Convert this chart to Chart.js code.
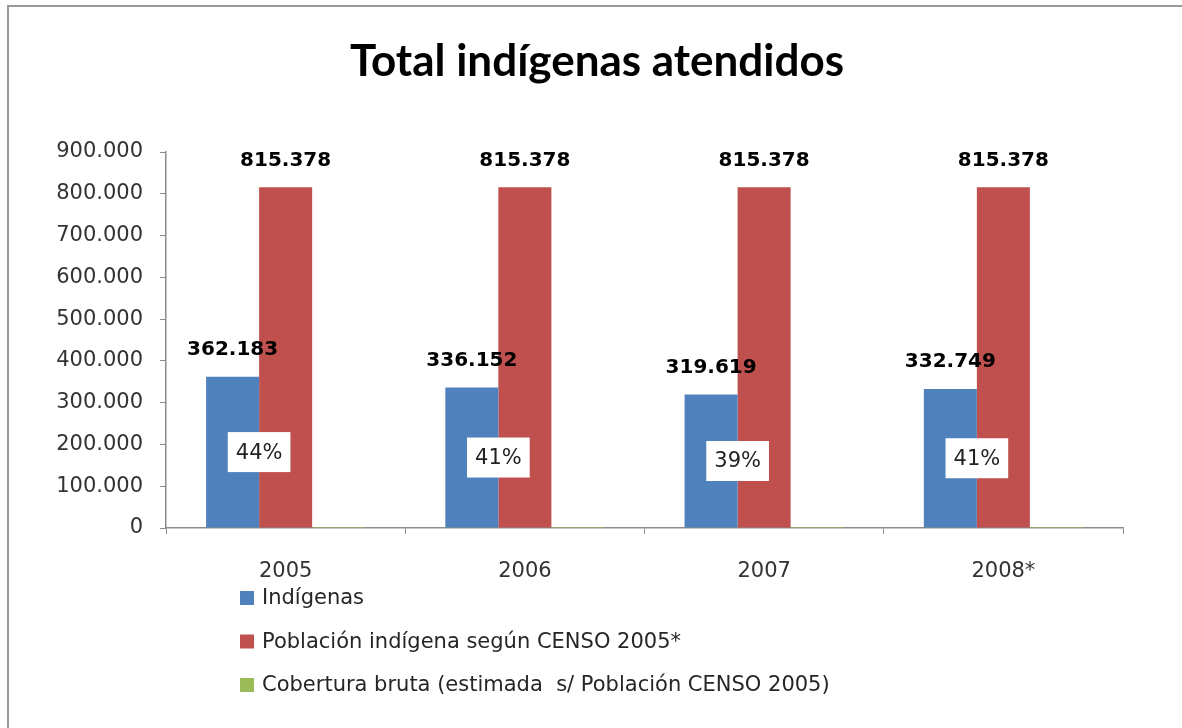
<!DOCTYPE html>
<html>
<head>
<meta charset="utf-8">
<script src="https://cdn.jsdelivr.net/npm/chart.js@4"></script>
<style>
  html, body { margin: 0; padding: 0; background: #fff; }
  #wrap { width: 1182px; height: 728px; }
</style>
</head>
<body>
<div id="wrap"><canvas id="chart" width="1182" height="728"></canvas></div>
<script>
// data
const categories = ['2005', '2006', '2007', '2008*'];
const indigenas = [362183, 336152, 319619, 332749];
const poblacionCenso = [815378, 815378, 815378, 815378];
const cobertura = [0.44, 0.41, 0.39, 0.41];
const seriesNames = [
  'Indígenas',
  'Población indígena según CENSO 2005*',
  'Cobertura bruta (estimada  s/ Población CENSO 2005)'
];
const seriesColors = ['#4f81bd', '#c0504d', '#9bbb59'];
const chartTitle = 'Total indígenas atendidos';

const baseFont = 'DejaVu Sans';
const axisColor = '#8c8c8c';

function fmtMiles(v) {
  return String(Math.round(v)).replace(/\B(?=(\d{3})+(?!\d))/g, '.');
}

// grey frame round the chart, and the title (centred on the whole frame)
const framePlugin = {
  id: 'frame',
  beforeDraw(chart) {
    const ctx = chart.ctx;
    ctx.save();
    ctx.strokeStyle = '#9a9a9a';
    ctx.lineWidth = 2;
    ctx.beginPath();
    ctx.moveTo(chart.width, 6);
    ctx.lineTo(8, 6);
    ctx.lineTo(8, chart.height);
    ctx.stroke();

    ctx.fillStyle = '#000';
    ctx.font = 'bold 44px Lato';
    ctx.textAlign = 'center';
    ctx.textBaseline = 'alphabetic';
    ctx.fillText(chartTitle, (8 + chart.width) / 2 + 2, 76);
    ctx.restore();
  }
};

// value labels over the bars, percent boxes for the coverage series
const labelsPlugin = {
  id: 'barLabels',
  afterDatasetsDraw(chart) {
    const ctx = chart.ctx;
    ctx.save();
    ctx.textAlign = 'center';
    ctx.textBaseline = 'middle';
    ctx.font = 'bold 20px ' + baseFont;
    ctx.fillStyle = '#000';
    [0, 1].forEach(function (di) {
      const meta = chart.getDatasetMeta(di);
      meta.data.forEach(function (bar, i) {
        ctx.fillText(fmtMiles(chart.data.datasets[di].data[i]), bar.x, bar.y - 27);
      });
    });

    const blue = chart.getDatasetMeta(0);
    ctx.font = '21px ' + baseFont;
    chart.data.datasets[2].data.forEach(function (v, i) {
      const bar = blue.data[i];
      const cx = bar.x + bar.width / 2;
      const cy = (bar.y + bar.base) / 2;
      const txt = Math.round(v * 100) + '%';
      const w = ctx.measureText(txt).width + 16;
      const h = 40;
      ctx.fillStyle = '#fff';
      ctx.fillRect(cx - w / 2, cy - h / 2, w, h);
      ctx.fillStyle = '#222';
      ctx.fillText(txt, cx, cy + 1);
    });
    ctx.restore();
  }
};

// stacked legend under the axis
const legendPlugin = {
  id: 'stackLegend',
  afterDraw(chart) {
    const ctx = chart.ctx;
    ctx.save();
    ctx.font = '21px ' + baseFont;
    ctx.textBaseline = 'middle';
    ctx.textAlign = 'left';
    chart.data.datasets.forEach(function (ds, i) {
      const y = 598 + i * 43.5;
      ctx.fillStyle = ds.backgroundColor;
      ctx.fillRect(240, y - 7, 14, 14);
      ctx.fillStyle = '#262626';
      ctx.fillText(ds.label, 262, y + 1);
    });
    ctx.restore();
  }
};

const datasets = [indigenas, poblacionCenso, cobertura].map(function (vals, i) {
  return {
    label: seriesNames[i],
    data: vals,
    backgroundColor: seriesColors[i],
    borderWidth: 0,
    barPercentage: 1.0,
    categoryPercentage: 0.665
  };
});

new Chart(document.getElementById('chart'), {
  type: 'bar',
  data: { labels: categories, datasets: datasets },
  plugins: [framePlugin, labelsPlugin, legendPlugin],
  options: {
    responsive: false,
    animation: false,
    layout: { padding: { left: 0, right: 59, top: 152, bottom: 0 } },
    plugins: {
      legend: { display: false },
      tooltip: { enabled: false },
      title: { display: false }
    },
    scales: {
      x: {
        offset: true,
        grid: { offset: true, drawOnChartArea: false, drawTicks: true, tickLength: 6, color: axisColor },
        border: { color: axisColor, width: 1.5 },
        ticks: { color: '#333', font: { family: baseFont, size: 21 }, padding: 25, maxRotation: 0 },
        afterFit(scale) { scale.height = 200; }
      },
      y: {
        min: 0,
        max: 900000,
        grid: { drawOnChartArea: false, drawTicks: true, tickLength: 6, color: axisColor },
        border: { color: axisColor, width: 1.5 },
        ticks: {
          stepSize: 100000,
          color: '#333',
          padding: 17,
          font: { family: baseFont, size: 21 },
          callback: function (v) { return fmtMiles(v); }
        },
        afterFit(scale) { scale.width = 166; }
      }
    }
  }
});
</script>
</body>
</html>
